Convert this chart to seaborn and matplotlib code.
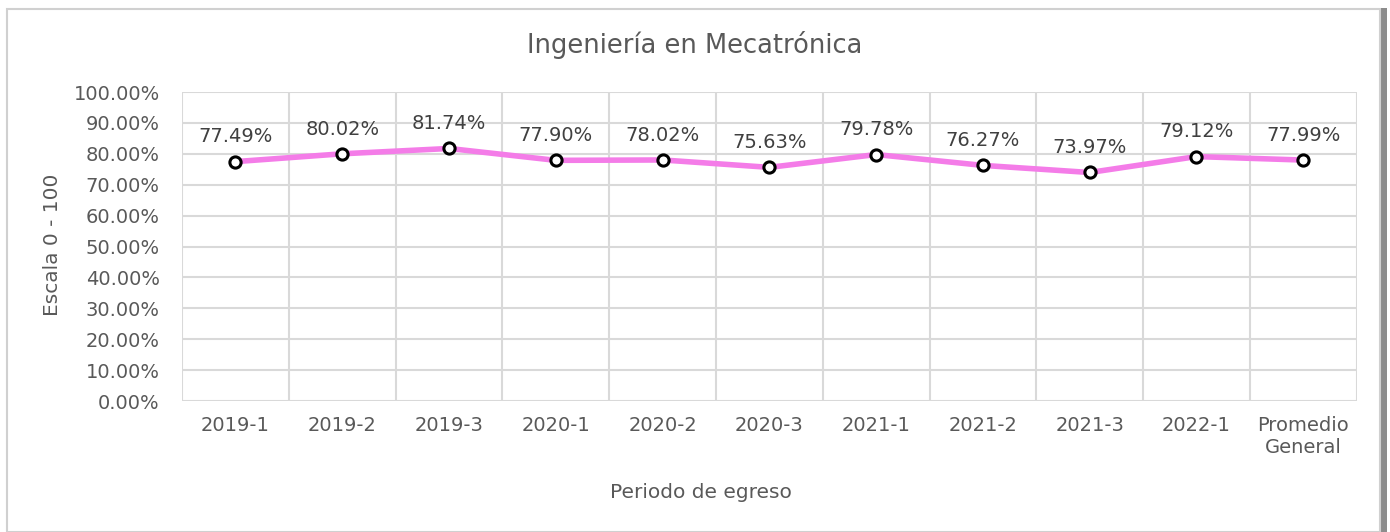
import matplotlib
matplotlib.use("Agg")
import matplotlib.pyplot as plt
import matplotlib.ticker as mticker
from matplotlib.patches import Rectangle
import seaborn as sns
import pandas as pd

periodos = ["2019-1", "2019-2", "2019-3", "2020-1", "2020-2", "2020-3",
            "2021-1", "2021-2", "2021-3", "2022-1", "Promedio\nGeneral"]
porcentajes = [77.49, 80.02, 81.74, 77.90, 78.02, 75.63,
               79.78, 76.27, 73.97, 79.12, 77.99]

sns.set_style("white")
plt.rcParams["font.family"] = ["DejaVu Sans"]

TEXT = "#595959"
GRID = "#d9d9d9"
LINE = "#f47ce8"

df = pd.DataFrame({"periodo": periodos, "valor": porcentajes})
df["pos"] = range(len(df))

fig = plt.figure(figsize=(13.9, 5.32), dpi=100)
ax = fig.add_axes([0.131, 0.246, 0.845, 0.581])

# chart frame with a soft shadow on the right
fig.patches.append(Rectangle((0.0125, 0.0), 0.985, 0.985, transform=fig.transFigure,
                             facecolor="#8c8c8c", edgecolor="none", zorder=-2))
fig.patches.append(Rectangle((0.005, 0.0), 0.988, 0.983, transform=fig.transFigure,
                             facecolor="white", edgecolor="#d0d0d0", lw=1.5, zorder=-1))

sns.lineplot(data=df, x="pos", y="valor", ax=ax, color=LINE, lw=4, zorder=3)
ax.scatter(df["pos"], df["valor"], s=65, facecolor="white", edgecolor="black",
           linewidth=2.2, zorder=4)

for x, v in zip(df["pos"], df["valor"]):
    ax.annotate(f"{v:.2f}%", (x, v), xytext=(0, 11), textcoords="offset points",
                ha="center", va="bottom", fontsize=14, color="#404040")

ax.set_xlim(-0.5, len(periodos) - 0.5)
ax.set_ylim(0, 100)
ax.set_xticks(range(len(periodos)))
ax.set_xticklabels(periodos)
ax.set_xticks([i - 0.5 for i in range(len(periodos) + 1)], minor=True)
ax.yaxis.set_major_locator(mticker.MultipleLocator(10))
ax.yaxis.set_major_formatter(mticker.FuncFormatter(lambda v, p: f"{v:.2f}%"))
ax.set_xlabel("")
ax.set_ylabel("")

ax.grid(False)
ax.grid(axis="y", which="major", color=GRID, lw=1.5)
ax.grid(axis="x", which="minor", color=GRID, lw=1.5)
ax.tick_params(axis="both", which="both", length=0, colors=TEXT, labelsize=14)
ax.tick_params(axis="x", pad=11)
ax.tick_params(axis="y", pad=16)
for s in ax.spines.values():
    s.set_visible(False)

fig.text(0.5, 0.915, "Ingeniería en Mecatrónica", fontsize=18.5, color=TEXT,
         ha="center", va="center")
fig.text(0.504, 0.075, "Periodo de egreso", fontsize=14.5, color=TEXT,
         ha="center", va="center")
fig.text(0.038, 0.54, "Escala 0 - 100", fontsize=14.5, color=TEXT,
         ha="center", va="center", rotation=90)

fig.savefig("out.png", dpi=100)
